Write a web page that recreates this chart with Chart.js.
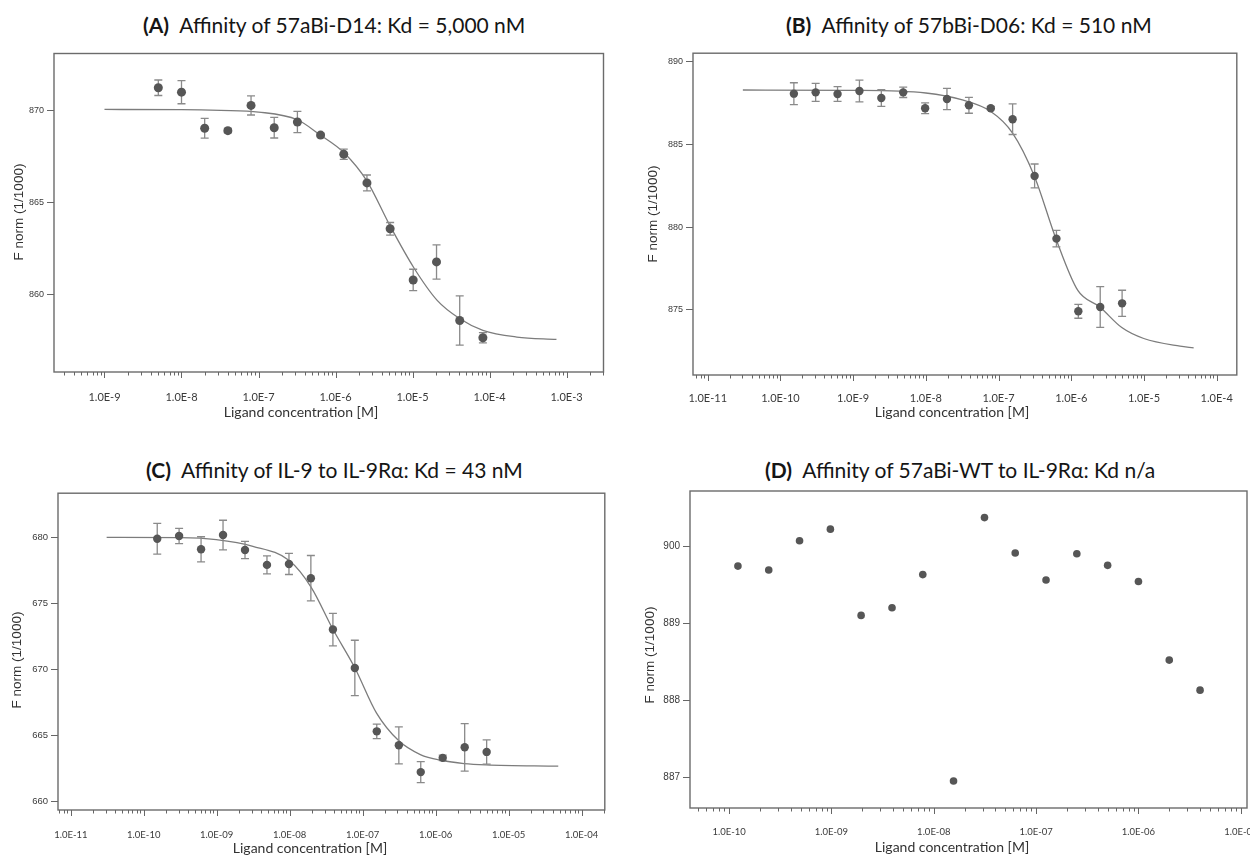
<!DOCTYPE html>
<html>
<head>
<meta charset="utf-8">
<script src="https://cdn.jsdelivr.net/npm/chart.js@4.4.1/dist/chart.umd.min.js"></script>
<style>
body { margin: 0; width: 1250px; height: 855px; background: #fff; position: relative; overflow: hidden; font-family: Lato, sans-serif; }
.painel { position: absolute; }
.titulo { position: absolute; font-size: 21px; line-height: 21px; color: #151515; white-space: nowrap; }
.titulo b { font-weight: 700; }
.eixoX { position: absolute; font-size: 14px; color: #333; white-space: nowrap; transform: translate(-50%, -50%); }
.eixoY { position: absolute; font-family: 'Liberation Sans', Arial, sans-serif; font-size: 13.5px; color: #333; white-space: nowrap; transform: translate(-50%, -50%) rotate(-90deg); }
</style>
</head>
<body>

<div class="titulo" style="left:143px; top:14px"><b>(A)</b>&nbsp; Affinity of 57aBi-D14: Kd = 5,000 nM</div>
<div class="titulo" style="left:786px; top:14px"><b>(B)</b>&nbsp; Affinity of 57bBi-D06: Kd = 510 nM</div>
<div class="titulo" style="left:146px; top:459px"><b>(C)</b>&nbsp; Affinity of IL-9 to IL-9Rα: Kd = 43 nM</div>
<div class="titulo" style="left:765px; top:459px"><b>(D)</b>&nbsp; Affinity of 57aBi-WT to IL-9Rα: Kd n/a</div>

<div class="painel" id="boxA"><canvas id="graficoA"></canvas></div>
<div class="painel" id="boxB"><canvas id="graficoB"></canvas></div>
<div class="painel" id="boxC"><canvas id="graficoC"></canvas></div>
<div class="painel" id="boxD"><canvas id="graficoD"></canvas></div>

<div class="eixoX" style="left:301px; top:411px">Ligand concentration [M]</div>
<div class="eixoX" style="left:952px; top:411px">Ligand concentration [M]</div>
<div class="eixoX" style="left:310px; top:847px">Ligand concentration [M]</div>
<div class="eixoX" style="left:952px; top:846px">Ligand concentration [M]</div>

<div class="eixoY" style="left:18px; top:212px">F norm (1/1000)</div>
<div class="eixoY" style="left:652px; top:214px">F norm (1/1000)</div>
<div class="eixoY" style="left:16px; top:660px">F norm (1/1000)</div>
<div class="eixoY" style="left:649px; top:655px">F norm (1/1000)</div>

<script>
// (A) 57aBi-D14
const concA = [5.0e-9, 1.0e-8, 2.0e-8, 4.0e-8, 8.0e-8, 1.6e-7, 3.2e-7, 6.4e-7, 1.28e-6, 2.56e-6, 5.12e-6, 1.02e-5, 2.05e-5, 4.1e-5, 8.2e-5]
const fnormA = [871.23, 870.99, 869.03, 868.90, 870.27, 869.06, 869.37, 868.66, 867.62, 866.06, 863.57, 860.79, 861.77, 858.59, 857.65]
const erroA = [0.42, 0.63, 0.54, 0.12, 0.52, 0.56, 0.58, 0.10, 0.28, 0.43, 0.34, 0.58, 0.93, 1.34, 0.28]
const ajusteXA = [1e-9, 1e-8, 3.2e-8, 1e-7, 3.19e-7, 6.35e-7, 1.28e-6, 2.55e-6, 5.09e-6, 1.03e-5, 2.09e-5, 4.12e-5, 8.2e-5, 2.26e-4, 7.4e-4]
const ajusteYA = [870.05, 870.04, 870.0, 869.91, 869.49, 868.66, 867.71, 866.17, 863.74, 861.48, 859.68, 858.68, 858.05, 857.69, 857.56]
const decadasA = [1e-9, 1e-8, 1e-7, 1e-6, 1e-5, 1e-4, 1e-3]
const rotulosXA = ['1.0E-9', '1.0E-8', '1.0E-7', '1.0E-6', '1.0E-5', '1.0E-4', '1.0E-3']
const ticksYA = [860, 865, 870]
const rotulosYA = ['860', '865', '870']

// (B) 57bBi-D06
const concB = [1.53e-10, 3.05e-10, 6.1e-10, 1.22e-9, 2.44e-9, 4.88e-9, 9.77e-9, 1.95e-8, 3.91e-8, 7.81e-8, 1.56e-7, 3.13e-7, 6.25e-7, 1.25e-6, 2.5e-6, 5e-6]
const fnormB = [888.04, 888.12, 888.02, 888.20, 887.78, 888.12, 887.16, 887.72, 887.34, 887.16, 886.50, 883.08, 879.30, 874.92, 875.18, 875.40]
const erroB = [0.66, 0.54, 0.44, 0.66, 0.50, 0.31, 0.32, 0.64, 0.48, 0.10, 0.92, 0.72, 0.50, 0.42, 1.23, 0.79]
const ajusteXB = [3.04e-11, 1e-9, 1e-8, 3.18e-8, 7.73e-8, 1.55e-7, 3.1e-7, 6.15e-7, 1.23e-6, 2.47e-6, 4.95e-6, 9.93e-6, 3.13e-5, 4.82e-5]
const ajusteYB = [888.26, 888.24, 888.08, 887.66, 886.98, 885.68, 883.08, 879.30, 876.18, 875.18, 873.94, 873.28, 872.82, 872.72]
const decadasB = [1e-11, 1e-10, 1e-9, 1e-8, 1e-7, 1e-6, 1e-5, 1e-4]
const rotulosXB = ['1.0E-11', '1.0E-10', '1.0E-9', '1.0E-8', '1.0E-7', '1.0E-6', '1.0E-5', '1.0E-4']
const ticksYB = [875, 880, 885, 890]
const rotulosYB = ['875', '880', '885', '890']

// (C) IL-9 / IL-9Ra
const concC = [1.53e-10, 3.05e-10, 6.1e-10, 1.22e-9, 2.44e-9, 4.88e-9, 9.77e-9, 1.95e-8, 3.91e-8, 7.81e-8, 1.56e-7, 3.13e-7, 6.25e-7, 1.25e-6, 2.5e-6, 5e-6]
const fnormC = [679.87, 680.08, 679.07, 680.15, 679.02, 677.89, 677.96, 676.88, 672.99, 670.08, 665.28, 664.22, 662.19, 663.27, 664.07, 663.72]
const erroC = [1.16, 0.58, 0.95, 1.12, 0.65, 0.68, 0.80, 1.72, 1.23, 2.10, 0.55, 1.40, 0.80, 0.20, 1.80, 0.92]
const ajusteXC = [3.1e-11, 3.13e-10, 9.84e-10, 3.13e-9, 9.84e-9, 1.96e-8, 3.93e-8, 7.83e-8, 1.55e-7, 3.08e-7, 6.17e-7, 1.23e-6, 2.45e-6, 4.91e-6, 4.79e-5]
const ajusteYC = [679.97, 679.95, 679.80, 679.30, 678.22, 676.21, 672.99, 670.08, 666.66, 664.60, 663.52, 663.07, 662.84, 662.74, 662.64]
const decadasC = [1e-11, 1e-10, 1e-9, 1e-8, 1e-7, 1e-6, 1e-5, 1e-4]
const rotulosXC = ['1.0E-11', '1.0E-10', '1.0E-09', '1.0E-08', '1.0E-07', '1.0E-06', '1.0E-05', '1.0E-04']
const ticksYC = [660, 665, 670, 675, 680]
const rotulosYC = ['660', '665', '670', '675', '680']

// (D) 57aBi-WT / IL-9Ra (sem ajuste)
const concD = [1.22e-10, 2.44e-10, 4.88e-10, 9.77e-10, 1.95e-9, 3.91e-9, 7.81e-9, 1.56e-8, 3.13e-8, 6.25e-8, 1.25e-7, 2.5e-7, 5e-7, 1e-6, 2e-6, 4e-6]
const fnormD = [889.74, 889.69, 890.07, 890.22, 889.10, 889.20, 889.63, 886.95, 890.37, 889.91, 889.56, 889.90, 889.75, 889.54, 888.52, 888.13]
const decadasD = [1e-10, 1e-9, 1e-8, 1e-7, 1e-6, 1e-5]
const rotulosXD = ['1.0E-10', '1.0E-09', '1.0E-08', '1.0E-07', '1.0E-06', '1.0E-05']
const ticksYD = [887, 888, 889, 890]
const rotulosYD = ['887', '888', '889', '900']

// posicao de cada painel na pagina (moldura do grafico)
const paineis = [
  { box: 'boxA', canvas: 'graficoA', x0: 0, L: 54, T: 52, R: 605, B: 372, xmin: 2.21e-10, xmax: 3.02e-3, ymin: 855.79, ymax: 873.09,
    conc: concA, fnorm: fnormA, erro: erroA, ajX: ajusteXA, ajY: ajusteYA, dec: decadasA, rotX: rotulosXA, tY: ticksYA, rotY: rotulosYA,
    fx: 11, fy: 9, padX: 11, raio: 4.5 },
  { box: 'boxB', canvas: 'graficoB', x0: 625, L: 693, T: 52, R: 1238, B: 375, xmin: 6.27e-12, xmax: 1.89e-4, ymin: 871.08, ymax: 890.48,
    conc: concB, fnorm: fnormB, erro: erroB, ajX: ajusteXB, ajY: ajusteYB, dec: decadasB, rotX: rotulosXB, tY: ticksYB, rotY: rotulosYB,
    fx: 11, fy: 9, padX: 9, raio: 4.2 },
  { box: 'boxC', canvas: 'graficoC', x0: 0, L: 58, T: 492, R: 606, B: 810, xmin: 6.68e-12, xmax: 2.08e-4, ymin: 659.32, ymax: 683.32,
    conc: concC, fnorm: fnormC, erro: erroC, ajX: ajusteXC, ajY: ajusteYC, dec: decadasC, rotX: rotulosXC, tY: ticksYC, rotY: rotulosYC,
    fx: 9.5, fy: 9.5, padX: 11, raio: 4.2 },
  { box: 'boxD', canvas: 'graficoD', x0: 625, L: 690, T: 490, R: 1248, B: 808, xmin: 4.15e-11, xmax: 1.15e-5, ymin: 886.60, ymax: 890.715,
    conc: concD, fnorm: fnormD, erro: null, ajX: null, ajY: null, dec: decadasD, rotX: rotulosXD, tY: ticksYD, rotY: rotulosYD,
    fx: 9.5, fy: 10, padX: 10, raio: 3.8 }
]

// moldura em volta da area do grafico
const moldura = {
  id: 'moldura',
  afterDraw(chart) {
    const a = chart.chartArea, ctx = chart.ctx
    ctx.save()
    ctx.strokeStyle = '#6b6b6b'
    ctx.lineWidth = 1.4
    ctx.strokeRect(a.left, a.top, a.right - a.left, a.bottom - a.top)
    // tracinhos do eixo x (decadas maiores)
    const sx = chart.scales.x
    ctx.strokeStyle = '#666'
    ctx.lineWidth = 1
    ctx.beginPath()
    for (const t of sx.ticks) {
      const px = Math.round(sx.getPixelForValue(t.value)) + 0.5
      if (px < a.left - 1 || px > a.right + 1) continue
      ctx.moveTo(px, a.bottom)
      ctx.lineTo(px, a.bottom + (t.major ? 6 : 3.5))
    }
    ctx.stroke()
    ctx.restore()
  }
}

// barras de erro (desenhadas antes dos pontos)
const barrasErro = {
  id: 'barrasErro',
  beforeDatasetDraw(chart, args) {
    const ds = chart.data.datasets[args.index]
    if (!ds.erros) return
    const sx = chart.scales.x, sy = chart.scales.y, ctx = chart.ctx
    ctx.save()
    ctx.strokeStyle = '#8a8a8a'
    ctx.lineWidth = 1.3
    ctx.beginPath()
    ds.data.forEach((p, i) => {
      const px = sx.getPixelForValue(p.x)
      const y1 = sy.getPixelForValue(p.y + ds.erros[i])
      const y2 = sy.getPixelForValue(p.y - ds.erros[i])
      ctx.moveTo(px, y1); ctx.lineTo(px, y2)
      ctx.moveTo(px - 4, y1); ctx.lineTo(px + 4, y1)
      ctx.moveTo(px - 4, y2); ctx.lineTo(px + 4, y2)
    })
    ctx.stroke()
    ctx.restore()
  }
}

function criarGrafico(p) {
  const box = document.getElementById(p.box)
  const topo = p.T - 3
  const largura = p.R + 3 - p.x0
  const alturaX = 32
  box.style.left = p.x0 + 'px'
  box.style.top = topo + 'px'
  box.style.width = largura + 'px'
  box.style.height = (p.B + alturaX - topo) + 'px'

  const datasets = []
  if (p.ajX) {
    datasets.push({
      data: p.ajX.map((x, i) => ({ x: x, y: p.ajY[i] })),
      showLine: true,
      borderColor: '#7c7c7c',
      borderWidth: 1.3,
      pointRadius: 0,
      cubicInterpolationMode: 'monotone',
      order: 2
    })
  }
  datasets.push({
    data: p.conc.map((x, i) => ({ x: x, y: p.fnorm[i] })),
    erros: p.erro,
    showLine: false,
    pointRadius: p.raio,
    backgroundColor: '#565656',
    borderColor: '#565656',
    borderWidth: 0,
    order: 1
  })

  new Chart(document.getElementById(p.canvas), {
    type: 'scatter',
    data: { datasets: datasets },
    plugins: [moldura, barrasErro],
    options: {
      responsive: true,
      maintainAspectRatio: false,
      animation: false,
      events: [],
      layout: { padding: { top: 3, right: 3, left: 0, bottom: 0 } },
      plugins: { legend: { display: false }, tooltip: { enabled: false } },
      scales: {
        x: {
          type: 'logarithmic',
          min: p.xmin,
          max: p.xmax,
          border: { display: false },
          grid: { display: false },
          afterBuildTicks: s => {
            const t = []
            const e0 = Math.floor(Math.log10(p.xmin)), e1 = Math.ceil(Math.log10(p.xmax))
            for (let e = e0; e <= e1; e++) {
              for (let m = 1; m <= 9; m++) {
                const v = m * Math.pow(10, e)
                if (v >= p.xmin && v <= p.xmax) t.push({ value: v, major: m === 1 })
              }
            }
            s.ticks = t
          },
          afterFit: s => { s.height = alturaX; s.paddingLeft = 0; s.paddingRight = 0 },
          ticks: {
            autoSkip: false,
            maxRotation: 0,
            minRotation: 0,
            padding: p.padX,
            color: '#3a3a3a',
            font: { family: 'Lato', size: p.fx },
            callback: (v, i, ticks) => {
              if (!ticks[i].major) return ''
              const k = p.dec.findIndex(d => Math.abs(Math.log10(d) - Math.log10(v)) < 1e-6)
              return k >= 0 ? p.rotX[k] : ''
            }
          }
        },
        y: {
          min: p.ymin,
          max: p.ymax,
          border: { display: false },
          grid: { display: true, drawOnChartArea: false, drawTicks: true, tickLength: 7, tickColor: '#666', tickWidth: 1 },
          afterBuildTicks: s => { s.ticks = p.tY.map(v => ({ value: v })) },
          afterFit: s => { s.width = p.L - p.x0; s.paddingTop = 0; s.paddingBottom = 0 },
          ticks: {
            padding: 3,
            color: '#3a3a3a',
            font: { family: 'Liberation Sans', size: p.fy },
            callback: (v) => {
              const k = p.tY.indexOf(v)
              return k >= 0 ? p.rotY[k] : ''
            }
          }
        }
      }
    }
  })
}

paineis.forEach(criarGrafico)
</script>
</body>
</html>
